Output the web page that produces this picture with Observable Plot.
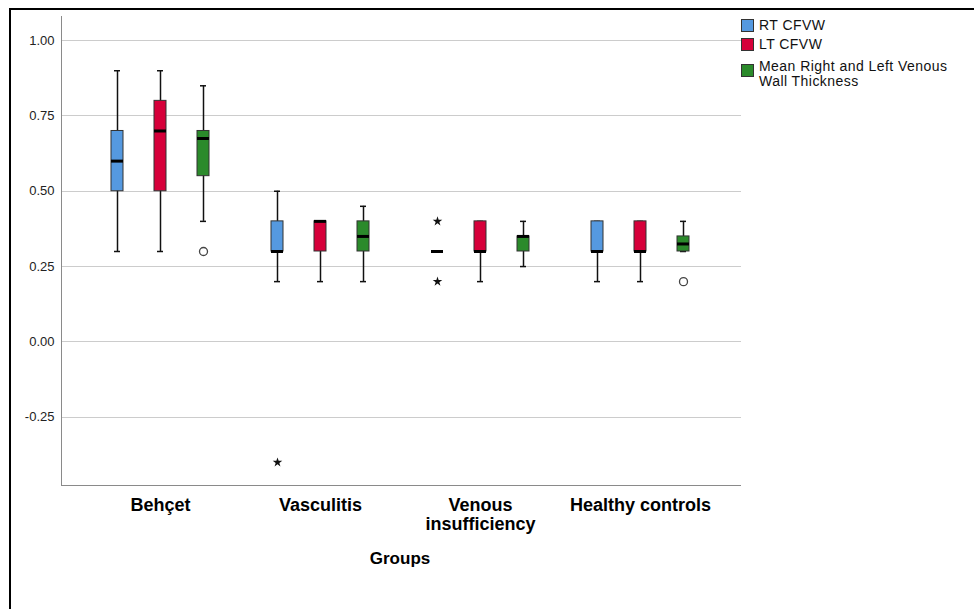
<!DOCTYPE html>
<html>
<head>
<meta charset="utf-8">
<script src="https://cdn.jsdelivr.net/npm/d3@7"></script>
<script src="https://cdn.jsdelivr.net/npm/@observablehq/plot@0.6"></script>
<style>
  html, body { margin: 0; padding: 0; background: #fff; }
  #wrap { position: relative; width: 974px; height: 609px; overflow: hidden; font-family: "Liberation Sans", Arial, sans-serif; }
  #chart { position: absolute; left: 0; top: 0; }
  .border { position: absolute; left: 9px; top: 8px; width: 980px; height: 620px; border-top: 2px solid #000; border-left: 2px solid #000; }
  .axisline { position: absolute; background: #8a8a8a; }
  .legend { position: absolute; left: 741px; top: 18px; font-size: 14px; letter-spacing: 0.45px; color: #111; line-height: 15px; }
  .legend .item { position: absolute; left: 0; white-space: nowrap; }
  .legend .sw { position: absolute; left: 0; width: 11px; height: 11px; border: 1px solid #333; }
  .legend .lab { position: absolute; left: 18px; }
  .title { position: absolute; font-weight: bold; font-size: 17px; color: #000; }
</style>
</head>
<body>
<div id="wrap">
  <div class="border"></div>
  <div id="chart"></div>
  <div class="legend" id="legend"></div>
</div>
<script>
// ---- data ----
const groups = ["Behçet", "Vasculitis", "Venous insufficiency", "Healthy controls"];
const series = ["RT CFVW", "LT CFVW", "Mean Right and Left Venous Wall Thickness"];
const colors = ["#5599e0", "#d6003a", "#2b8a2b"];
const yTicks = [-0.25, 0, 0.25, 0.5, 0.75, 1.0];

// per group: lower whisker, Q1, median, Q3, upper whisker
const rtLow  = [0.30, 0.20, 0.30, 0.20];
const rtQ1   = [0.50, 0.30, 0.30, 0.30];
const rtMed  = [0.60, 0.30, 0.30, 0.30];
const rtQ3   = [0.70, 0.40, 0.30, 0.40];
const rtHigh = [0.90, 0.50, 0.30, 0.40];

const ltLow  = [0.30, 0.20, 0.20, 0.20];
const ltQ1   = [0.50, 0.30, 0.30, 0.30];
const ltMed  = [0.70, 0.40, 0.30, 0.30];
const ltQ3   = [0.80, 0.40, 0.40, 0.40];
const ltHigh = [0.90, 0.40, 0.40, 0.40];

const mnLow  = [0.40, 0.20, 0.25, 0.30];
const mnQ1   = [0.55, 0.30, 0.30, 0.30];
const mnMed  = [0.675, 0.35, 0.35, 0.325];
const mnQ3   = [0.70, 0.40, 0.35, 0.35];
const mnHigh = [0.85, 0.45, 0.40, 0.40];

// outliers (circles) and extremes (stars)
const outGroup  = ["Behçet", "Healthy controls"];
const outSeries = [2, 2];
const outValue  = [0.30, 0.20];
const extGroup  = ["Vasculitis", "Venous insufficiency", "Venous insufficiency"];
const extSeries = [0, 0, 0];
const extValue  = [-0.40, 0.40, 0.20];

// ---- build tables ----
const stats = [];
const src = [
  [rtLow, rtQ1, rtMed, rtQ3, rtHigh],
  [ltLow, ltQ1, ltMed, ltQ3, ltHigh],
  [mnLow, mnQ1, mnMed, mnQ3, mnHigh]
];
groups.forEach((g, i) => {
  series.forEach((s, j) => {
    const [lo, q1, md, q3, hi] = src[j];
    stats.push({group: g, series: s, low: lo[i], q1: q1[i], med: md[i], q3: q3[i], high: hi[i]});
  });
});
const outliers = outGroup.map((g, i) => ({group: g, series: series[outSeries[i]], value: outValue[i]}));
const extremes = extGroup.map((g, i) => ({group: g, series: series[extSeries[i]], value: extValue[i]}));

const labelFmt = d => d === "Venous insufficiency" ? "Venous\ninsufficiency" : d;

const chart = Plot.plot({
  width: 974,
  height: 609,
  marginLeft: 80,
  marginRight: 254,
  marginTop: 16,
  marginBottom: 123,
  style: {fontFamily: "'Liberation Sans', Arial, sans-serif", background: "transparent", color: "#000"},
  fx: {domain: groups, padding: 0, label: null},
  x: {domain: series, padding: 0.72, axis: null},
  y: {domain: [-0.48, 1.08], axis: null},
  color: {domain: series, range: colors},
  marks: [
    Plot.ruleY(yTicks, {stroke: "#cccccc", strokeWidth: 1, shapeRendering: "crispEdges", insetLeft: -19, insetRight: -21}),
    Plot.axisY({ticks: yTicks, tickSize: 0, tickPadding: 26, tickFormat: d => d.toFixed(2), fontSize: 13, fill: "#222", label: null}),
    Plot.axisFx({anchor: "bottom", tickSize: 0, tickPadding: 10, fontSize: 18, fontWeight: "bold", lineHeight: 1.1, tickFormat: labelFmt, label: null}),
    Plot.ruleX(stats, {fx: "group", x: "series", y1: "low", y2: "high", stroke: "#111", strokeWidth: 1.5}),
    Plot.tickY(stats, {fx: "group", x: "series", y: "low", insetLeft: 3, insetRight: 3, stroke: "#111", strokeWidth: 1.5}),
    Plot.tickY(stats, {fx: "group", x: "series", y: "high", insetLeft: 3, insetRight: 3, stroke: "#111", strokeWidth: 1.5}),
    Plot.barY(stats, {fx: "group", x: "series", y1: "q1", y2: "q3", fill: "series", stroke: "#333", strokeWidth: 1}),
    Plot.tickY(stats, {fx: "group", x: "series", y: "med", stroke: "#000", strokeWidth: 3}),
    Plot.dot(outliers, {fx: "group", x: "series", y: "value", r: 4, stroke: "#444", strokeWidth: 1.3, fill: "white"}),
    Plot.dot(extremes, {fx: "group", x: "series", y: "value", symbol: "star", r: 3, fill: "#111", stroke: "none"})
  ]
});
document.getElementById("chart").appendChild(chart);

// axis lines (frame of the plot area)
const wrap = document.getElementById("wrap");
const vline = document.createElement("div");
vline.className = "axisline";
Object.assign(vline.style, {left: "61px", top: "16px", width: "1px", height: "470px"});
wrap.appendChild(vline);
const hline = document.createElement("div");
hline.className = "axisline";
Object.assign(hline.style, {left: "61px", top: "485px", width: "680px", height: "1px"});
wrap.appendChild(hline);

// axis title
const t = document.createElement("div");
t.className = "title";
t.textContent = "Groups";
Object.assign(t.style, {left: "400px", top: "549px", transform: "translateX(-50%)"});
wrap.appendChild(t);

// legend
const legend = document.getElementById("legend");
const legendTops = [0, 19, 43];
series.forEach((s, i) => {
  const item = document.createElement("div");
  item.className = "item";
  item.style.top = legendTops[i] + "px";
  const sw = document.createElement("div");
  sw.className = "sw";
  sw.style.background = colors[i];
  sw.style.top = (i === 2 ? 3 : 1) + "px";
  const lab = document.createElement("div");
  lab.className = "lab";
  lab.style.top = (i === 2 ? -2 : 0) + "px";
  lab.innerHTML = i === 2 ? "Mean Right and Left Venous<br>Wall Thickness" : s;
  item.appendChild(sw);
  item.appendChild(lab);
  legend.appendChild(item);
});
</script>
</body>
</html>
